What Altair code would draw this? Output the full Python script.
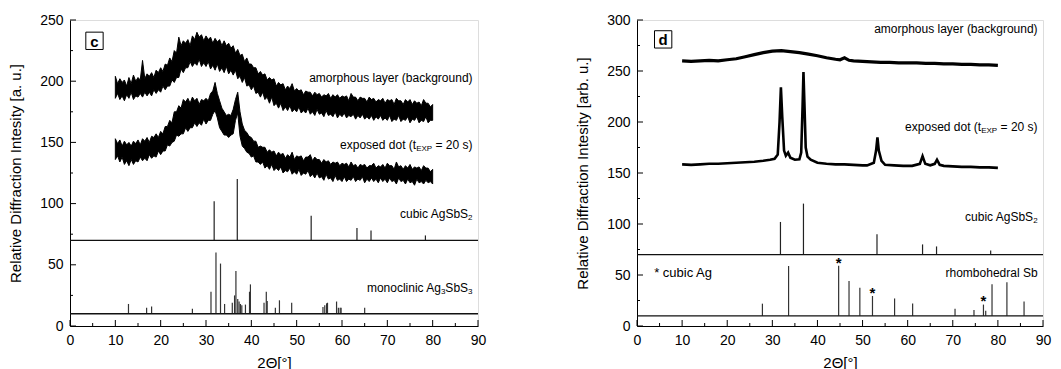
import altair as alt
import pandas as pd

FONT = "Liberation Sans"

# ---------------- data ----------------
# panel c : noisy scans, sampled every 0.5 deg from 10 to 80 deg (upper / lower edge of the trace)
C_ANG_START = 10.0
C_ANG_STEP = 0.5
C_AMO_HI = [204,198,202,199,201,196,203,198,205,200,
            203,201,217,202,206,204,207,203,209,207,
            211,208,214,213,219,216,225,223,236,229,
            233,231,234,229,237,234,240,236,238,233,
            237,234,236,231,235,232,234,229,233,229,
            231,227,229,223,226,221,222,216,219,214,
            214,211,211,206,208,205,206,201,203,201,
            202,196,199,197,198,193,196,194,198,192,
            194,192,193,189,192,191,191,188,191,189,
            190,187,189,188,190,186,189,187,189,186,
            188,187,188,184,190,187,187,184,187,186,
            186,183,187,185,186,183,185,184,186,182,
            185,184,185,181,186,184,184,181,185,183,
            185,181,184,182,183,180,185,182,182,179,
            181]
C_AMO_LO = [186,190,185,188,184,189,186,191,185,188,
            187,190,187,191,188,191,188,193,190,193,
            191,196,193,196,196,201,199,203,203,210,
            207,211,211,216,212,215,213,218,212,215,
            212,216,210,213,209,214,208,211,207,212,
            206,209,205,209,202,204,199,203,196,197,
            193,196,190,191,187,191,185,187,182,187,
            180,182,178,182,176,179,176,180,175,177,
            175,179,174,176,174,178,173,175,172,177,
            173,174,171,176,172,173,171,175,170,173,
            171,174,170,172,171,173,169,172,170,173,
            169,171,169,172,168,171,169,172,168,170,
            168,172,167,169,168,172,167,169,168,171,
            166,169,168,171,166,168,167,171,166,168,
            168]
C_DOT_HI = [153,149,152,147,151,148,150,147,151,149,
            152,148,153,151,154,150,155,154,157,154,
            159,157,163,163,168,166,175,175,180,178,
            185,183,186,182,187,184,186,181,185,184,
            186,184,190,192,199,190,184,178,175,172,
            173,172,177,185,191,175,165,160,158,155,
            154,151,151,146,147,146,146,142,144,142,
            143,139,142,140,141,137,140,138,142,136,
            139,138,139,135,138,138,140,135,138,136,
            136,133,136,134,135,132,134,133,134,131,
            133,132,133,130,134,131,132,129,132,131,
            132,129,131,131,133,129,131,130,132,129,
            133,131,131,128,134,130,131,128,131,129,
            132,128,130,129,130,127,131,129,129,126,
            128]
C_DOT_LO = [136,139,134,138,132,135,131,136,132,135,
            134,138,135,137,135,140,137,139,138,143,
            140,143,143,148,147,150,151,156,155,157,
            157,162,159,162,162,166,163,166,164,169,
            165,168,168,173,176,170,162,159,156,156,
            154,156,157,168,174,155,147,145,142,141,
            138,139,134,134,132,134,129,131,128,132,
            127,129,127,130,125,127,126,129,124,126,
            124,128,123,125,124,127,122,124,121,125,
            121,122,119,124,120,121,118,123,119,120,
            118,122,118,120,119,122,118,120,119,122,
            117,120,118,121,118,120,117,121,118,120,
            117,121,118,119,116,121,118,119,116,120,
            117,118,115,120,117,118,116,119,117,118,
            116]

# reference patterns
AGSBS2_POS = [31.8, 36.9, 53.2, 63.3, 66.4, 78.4]
AGSBS2_TOP = [102, 120, 90, 80, 78, 74]
AGSBS2_BASE = 70

AG3SBS3_POS = [12.9, 16.9, 18.0, 27.0, 31.1, 32.2, 33.2, 34.1, 35.8, 36.3, 36.6, 37.0, 37.3,
               37.6, 37.9, 38.7, 39.6, 39.8, 42.8, 43.3, 43.5, 45.3, 46.2, 48.9, 55.8, 56.2,
               56.6, 56.8, 58.8, 59.2, 59.6, 59.8, 65.0]
AG3SBS3_TOP = [18, 15, 16, 14, 28, 60, 51, 18, 19, 25, 45, 22, 20,
               18, 17, 17.5, 28, 34, 19, 28, 20.5, 15, 21, 19, 15.5, 17,
               18.5, 19, 20, 15, 15, 15, 15]
LOWER_BASE = 10

# panel d : scans
D_AMO_X = [10, 12, 14, 16, 18, 20, 22, 24, 26, 28, 30, 32, 34, 36, 38, 40, 42, 44, 45, 46, 47, 48,
           50, 52, 54, 56, 58, 60, 62, 64, 66, 68, 70, 72, 74, 76, 78, 80]
D_AMO_Y = [260, 259.5, 260, 260.5, 260, 261, 262, 264, 266, 268, 269.5, 270, 269, 268, 266.5, 265,
           263, 261.5, 261, 263, 260.5, 260, 259.5, 259, 258.5, 258.5, 258, 258, 258, 257.5, 257.5,
           257, 257, 256.5, 256.5, 256, 256, 255.5]
D_DOT_X = [10, 12, 14, 16, 18, 20, 22, 24, 26, 28, 29.5, 30.5, 31.2, 31.6, 31.9, 32.2, 32.6, 33.0,
           33.5, 34.0, 35, 36, 36.4, 36.7, 36.9, 37.1, 37.4, 37.8, 38.5, 40, 42, 44, 46, 48, 50, 51,
           52.5, 53.0, 53.3, 53.6, 54.2, 55, 57, 59, 61, 62.7, 63.3, 63.9, 65, 66, 66.5, 67.1, 68,
           70, 72, 74, 76, 78, 80]
D_DOT_Y = [158.5, 158, 158.5, 159, 159, 159.5, 160, 160.5, 161, 162, 163, 164, 168, 200, 234, 205,
           172, 167, 170, 165, 163, 163.5, 170, 215, 249, 220, 175, 166, 163, 160, 159, 158.5, 158.5,
           158, 157.5, 157.5, 160, 172, 185, 172, 162, 158, 157.5, 157, 157, 159, 166.5, 159, 157.5,
           159, 163, 158, 157, 156.5, 156, 156, 155.5, 155.5, 155]

SB_POS = [27.8, 33.6, 44.7, 47.0, 49.4, 52.2, 57.1, 61.1, 70.5, 74.7, 76.8, 77.3, 78.7, 82.0, 85.8]
SB_TOP = [21.9, 58.8, 59, 44, 37.6, 29.4, 27, 22, 17, 15.7, 21, 15, 41, 43, 24]
AG_STAR_POS = [44.7, 52.2, 76.8]
AG_STAR_Y = [64, 34.5, 26.5]

X_MAJOR = [0, 10, 20, 30, 40, 50, 60, 70, 80, 90]
X_MINOR = [5, 15, 25, 35, 45, 55, 65, 75, 85]
C_Y_MAJOR = [0, 50, 100, 150, 200, 250]
C_Y_MINOR = [25, 75, 125, 175, 225]
D_Y_MAJOR = [0, 50, 100, 150, 200, 250, 300]
D_Y_MINOR = [25, 75, 125, 175, 225, 275]

W_C, W_D, H = 408, 406, 306
LABEL_X = 88.8


class Panel:
    def __init__(self, ydom, ymaj, ytitle):
        self.ydom = ydom
        self.xax = alt.Axis(values=X_MAJOR, title="2Θ[°]", tickSize=0, labelPadding=7,
                            titlePadding=8, labelFlush=False, labelFont=FONT, labelFontSize=14,
                            titleFont=FONT, titleFontSize=15, titleFontWeight="normal",
                            labelColor="black", titleColor="black", domainColor="black",
                            grid=False)
        self.yax = alt.Axis(values=ymaj, title=ytitle, tickSize=0, labelPadding=7, titlePadding=16,
                            labelFlush=False, labelFont=FONT, labelFontSize=14, titleFont=FONT,
                            titleFontSize=15, titleFontWeight="normal", labelColor="black",
                            titleColor="black", domainColor="black", grid=False)

    def x(self, field="x"):
        return alt.X(f"{field}:Q", scale=alt.Scale(domain=[0, 90], nice=False, zero=False),
                     axis=self.xax)

    def y(self, field="y"):
        return alt.Y(f"{field}:Q", scale=alt.Scale(domain=self.ydom, nice=False, zero=False),
                     axis=self.yax)


def tick_layers(p, ymaj, ymin):
    xmaj = alt.Chart(pd.DataFrame({"x": X_MAJOR})).mark_rule(color="black").encode(
        x=p.x(), y=alt.value(H), y2=alt.value(H - 6))
    xmin = alt.Chart(pd.DataFrame({"x": X_MINOR})).mark_rule(color="black").encode(
        x=p.x(), y=alt.value(H), y2=alt.value(H - 3))
    ymajl = alt.Chart(pd.DataFrame({"y": ymaj})).mark_rule(color="black").encode(
        y=p.y(), x=alt.value(0), x2=alt.value(6))
    yminl = alt.Chart(pd.DataFrame({"y": ymin})).mark_rule(color="black").encode(
        y=p.y(), x=alt.value(0), x2=alt.value(3))
    return [xmaj, xmin, ymajl, yminl]


def sticks(p, pos, top, base, color="#222222"):
    df = pd.DataFrame({"x": pos, "y": [base] * len(pos), "y2": top})
    return alt.Chart(df).mark_rule(color=color, strokeWidth=1.2).encode(
        x=p.x(), y=p.y(), y2="y2:Q")


def hline(p, yv):
    df = pd.DataFrame({"x": [0], "x2": [90], "y": [yv]})
    return alt.Chart(df).mark_rule(color="#111111", strokeWidth=1.3).encode(
        x=p.x(), x2="x2:Q", y=p.y())


def label(p, x, y, text, size=12, dx=0, dy=0, align="right", weight="normal"):
    df = pd.DataFrame({"x": [x], "y": [y], "t": [text]})
    return alt.Chart(df).mark_text(align=align, baseline="middle", font=FONT, fontSize=size,
                                   fontWeight=weight, dx=dx, dy=dy, color="black").encode(
        x=p.x(), y=p.y(), text="t:N")


def boxed_letter(p, x, y, letter):
    df = pd.DataFrame({"x": [x], "y": [y], "t": [letter]})
    box = alt.Chart(df).mark_point(shape="square", filled=False, size=300, color="black",
                                   strokeWidth=1, opacity=1).encode(x=p.x(), y=p.y())
    txt = alt.Chart(df).mark_text(font=FONT, fontSize=15, fontWeight="bold", align="center",
                                  baseline="middle", color="black", dy=1).encode(
        x=p.x(), y=p.y(), text="t:N")
    return [box, txt]


def exposed_label(p, x, y):
    return [label(p, x, y, " = 20 s)"),
            label(p, x, y, "EXP", size=8, dx=-40.4, dy=4),
            label(p, x, y, "exposed dot (t", dx=-56.4)]


def agsbs2_label(p, x, y):
    return [label(p, x, y, "2", size=8, dy=4),
            label(p, x, y, "cubic AgSbS", dx=-4.5)]


# ---------------- panel c ----------------
pc = Panel([0, 250], C_Y_MAJOR, "Relative Diffraction Intesity [a. u.]")
angles = [C_ANG_START + C_ANG_STEP * i for i in range(len(C_AMO_HI))]
c_amo = alt.Chart(pd.DataFrame({"x": angles, "y": C_AMO_LO, "y2": C_AMO_HI})).mark_area(
    color="black", stroke="black", strokeWidth=1).encode(x=pc.x(), y=pc.y(), y2="y2:Q")
c_dot = alt.Chart(pd.DataFrame({"x": angles, "y": C_DOT_LO, "y2": C_DOT_HI})).mark_area(
    color="black", stroke="black", strokeWidth=1).encode(x=pc.x(), y=pc.y(), y2="y2:Q")

c_layers = tick_layers(pc, C_Y_MAJOR, C_Y_MINOR)
c_layers += [c_amo, c_dot,
             sticks(pc, AGSBS2_POS, AGSBS2_TOP, AGSBS2_BASE),
             sticks(pc, AG3SBS3_POS, AG3SBS3_TOP, LOWER_BASE, color="#333333"),
             hline(pc, AGSBS2_BASE), hline(pc, LOWER_BASE),
             label(pc, LABEL_X, 203, "amorphous layer (background)")]
c_layers += exposed_label(pc, LABEL_X, 148)
c_layers += agsbs2_label(pc, LABEL_X, 91.5)
c_layers += [label(pc, LABEL_X, 31, "3", size=8, dy=4),
             label(pc, LABEL_X, 31, "SbS", dx=-4.5),
             label(pc, LABEL_X, 31, "3", size=8, dx=-27.2, dy=4),
             label(pc, LABEL_X, 31, "monoclinic Ag", dx=-31.6)]
c_layers += boxed_letter(pc, 5.4, 233, "c")

panel_c = alt.layer(*c_layers).properties(width=W_C, height=H)

# ---------------- panel d ----------------
pd_ = Panel([0, 300], D_Y_MAJOR, "Relative Diffraction Intesity [arb. u.]")
d_amo = alt.Chart(pd.DataFrame({"x": D_AMO_X, "y": D_AMO_Y})).mark_line(
    color="black", strokeWidth=3.2).encode(x=pd_.x(), y=pd_.y())
d_dot = alt.Chart(pd.DataFrame({"x": D_DOT_X, "y": D_DOT_Y})).mark_line(
    color="black", strokeWidth=2.6).encode(x=pd_.x(), y=pd_.y())
stars = alt.Chart(pd.DataFrame({"x": AG_STAR_POS, "y": AG_STAR_Y, "t": ["*"] * 3})).mark_text(
    font=FONT, fontSize=15, fontWeight="bold", baseline="middle", color="black", dy=2).encode(
    x=pd_.x(), y=pd_.y(), text="t:N")

d_layers = tick_layers(pd_, D_Y_MAJOR, D_Y_MINOR)
d_layers += [d_amo, d_dot,
             sticks(pd_, AGSBS2_POS, AGSBS2_TOP, AGSBS2_BASE),
             sticks(pd_, SB_POS, SB_TOP, LOWER_BASE, color="#333333"),
             hline(pd_, AGSBS2_BASE), hline(pd_, LOWER_BASE), stars,
             label(pd_, LABEL_X, 291, "amorphous layer (background)")]
d_layers += exposed_label(pd_, LABEL_X, 195)
d_layers += agsbs2_label(pd_, LABEL_X, 107)
d_layers += [label(pd_, LABEL_X, 52, "rhombohedral Sb"),
             label(pd_, 3.8, 52, "* cubic Ag", size=13, align="left")]
d_layers += boxed_letter(pd_, 5.8, 281, "d")

panel_d = alt.layer(*d_layers).properties(width=W_D, height=H)

chart = alt.hconcat(panel_c, panel_d, spacing=88).properties(
    padding={"left": 0, "top": 4, "right": 0, "bottom": 0}
).configure_view(stroke="black", strokeWidth=1).configure(background="white")

chart.save("out.html", embed_options={"renderer": "svg", "actions": False})
